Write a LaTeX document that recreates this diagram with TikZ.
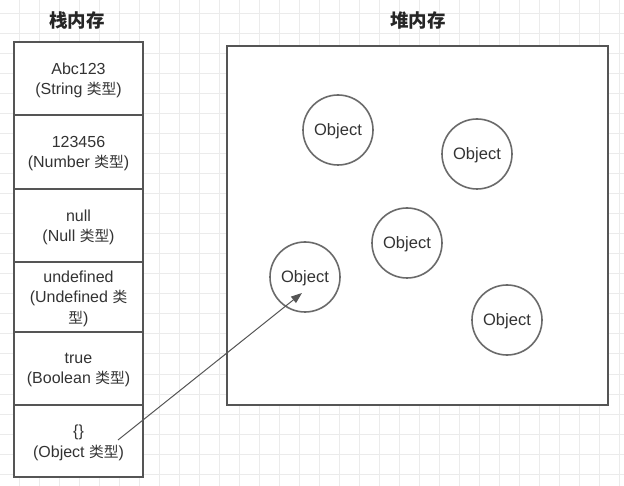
\documentclass[tikz,border=0pt]{standalone}
\usepackage{fontspec}
\setmainfont{Liberation Sans}
\newfontfamily\cjk[Scale=0.92]{Noto Sans CJK SC}
\newfontfamily\cjktitle{Noto Sans CJK SC}
\usetikzlibrary{arrows.meta}
\definecolor{gridc}{HTML}{EBEBEB}
\definecolor{edge}{HTML}{555555}
\definecolor{ring}{HTML}{6A6A6A}
\definecolor{txt}{HTML}{333333}
\tikzset{
  cell/.style={draw=edge, line width=2pt, fill=white, minimum width=129pt, inner sep=0pt,
    align=center, text=txt, text depth=-1.5pt, font=\fontsize{16}{20.5}\selectfont},
  heapbox/.style={draw=edge, line width=2pt, fill=white, minimum width=381pt, minimum height=359pt, inner sep=0pt},
  obj/.style={circle, draw=ring, line width=1.6pt, fill=white, minimum size=70pt, inner sep=0pt,
    text=txt, text depth=-1.5pt, font=\fontsize{16.5}{18}\selectfont},
  title/.style={text=black!85, font=\fontsize{18.5}{20}\selectfont\cjktitle\bfseries},
  ptr/.style={draw=edge, line width=1pt, -{Triangle[length=11pt,width=8pt]}}
}
\begin{document}
\begin{tikzpicture}[x=1pt,y=-1pt]
\useasboundingbox (0,0) rectangle (624,486);
\fill[white] (0,0) rectangle (624,486);
% grid
\foreach \gx in {19,39,...,619} \draw[gridc, line width=1pt] (\gx,0) -- (\gx,486);
\foreach \gy in {14,34,...,474} \draw[gridc, line width=1pt] (0,\gy) -- (624,\gy);
% titles
\node[title] (t1) at (77,20.5) {栈内存};
\node[title] (t2) at (418,20.5) {堆内存};
% stack cells
\node[cell, minimum height=73pt] (c1) at (78.5,78.5) {Abc123\\(String {\cjk 类型})};
\node[cell, minimum height=74pt] (c2) at (78.5,152) {123456\\(Number {\cjk 类型})};
\node[cell, minimum height=73pt] (c3) at (78.5,225.5) {null\\(Null {\cjk 类型})};
\node[cell, minimum height=70pt] (c4) at (78.5,297) {undefined\\(Undefined {\cjk 类}\\{\cjk 型})};
\node[cell, minimum height=73pt] (c5) at (78.5,368.5) {true\\(Boolean {\cjk 类型})};
\node[cell, minimum height=72pt] (c6) at (78.5,441) {\{\}\\(Object {\cjk 类型})};
% heap
\node[heapbox] (heap) at (417.5,225.5) {};
\node[obj] (o1) at (338,130) {Object};
\node[obj] (o2) at (477,154) {Object};
\node[obj] (o3) at (407,243) {Object};
\node[obj] (o4) at (305,277) {Object};
\node[obj] (o5) at (507,320) {Object};
% pointer
\coordinate (src) at (118,440);
\coordinate (tip) at ([shift={(-3pt,-16pt)}]o4.center);
\draw[ptr] (src) -- (tip);
\end{tikzpicture}
\end{document}
